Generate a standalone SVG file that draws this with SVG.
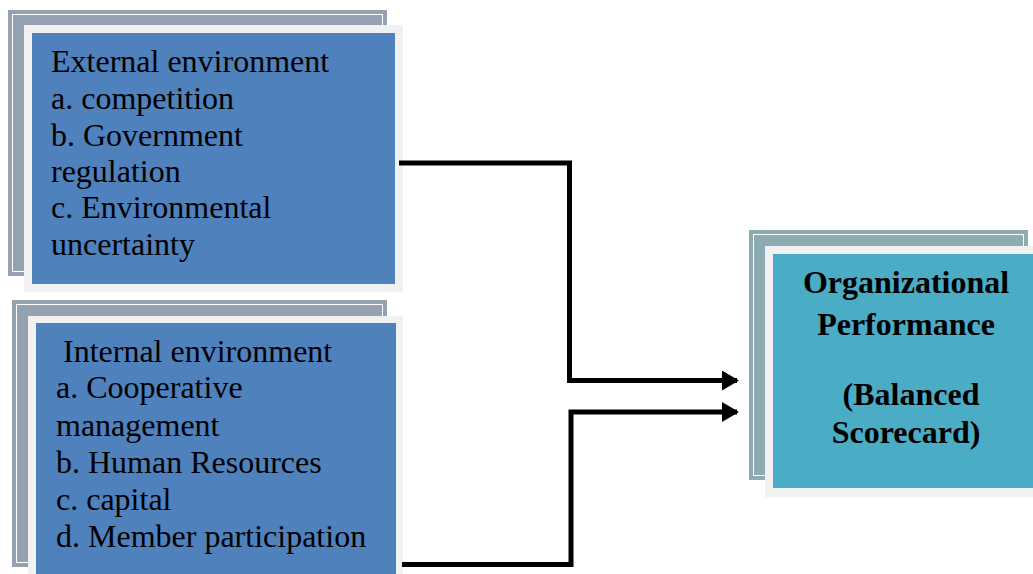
<svg xmlns="http://www.w3.org/2000/svg" width="1033" height="574" viewBox="0 0 1033 574">
<defs>
<style>
.back{fill:#94a1b0;}
.backR{fill:#8eaab3;}
.inner{fill:none;stroke:#ffffff;stroke-width:1;}
.frame{fill:#f1f1f1;}
.blue{fill:#4f81bd;}
.teal{fill:#4bacc6;}
.t{font-family:"Liberation Serif","Times New Roman",serif;font-size:32px;fill:#000;}
.b{font-family:"Liberation Serif","Times New Roman",serif;font-size:32px;font-weight:bold;fill:#000;text-anchor:middle;}
.con{fill:none;stroke:#000;stroke-width:5;stroke-linejoin:miter;}
</style>
<marker id="arr" markerUnits="userSpaceOnUse" markerWidth="17" markerHeight="20" refX="15" refY="10" orient="auto" viewBox="0 0 17 20">
<path d="M0,0 L17,10 L0,20 Z" fill="#000"/>
</marker>
</defs>
<rect width="1033" height="574" fill="#ffffff"/>

<g id="external">
<rect class="back" x="8" y="10" width="379" height="266"/>
<rect class="inner" x="12.5" y="14.5" width="370" height="257"/>
<rect class="frame" x="24" y="25" width="379" height="267"/>
<rect class="blue" x="32" y="33" width="363" height="251"/>
<text class="t" x="51" y="72">External environment</text>
<text class="t" x="51" y="109">a. competition</text>
<text class="t" x="51" y="146">b. Government</text>
<text class="t" x="51" y="182">regulation</text>
<text class="t" x="51" y="218">c. Environmental</text>
<text class="t" x="51" y="255">uncertainty</text>
</g>

<g id="internal">
<rect class="back" x="12" y="300" width="375" height="267"/>
<rect class="inner" x="16.5" y="304.5" width="366" height="258"/>
<rect class="frame" x="28" y="316" width="375" height="270"/>
<rect class="blue" x="36" y="323" width="360" height="260"/>
<text class="t" x="63" y="362">Internal environment</text>
<text class="t" x="56" y="398">a. Cooperative</text>
<text class="t" x="56" y="436">management</text>
<text class="t" x="56" y="473">b. Human Resources</text>
<text class="t" x="56" y="510">c. capital</text>
<text class="t" x="56" y="547">d. Member participation</text>
</g>

<g id="performance">
<rect class="backR" x="749" y="230" width="279" height="250"/>
<rect class="inner" x="753.5" y="234.5" width="270" height="241"/>
<rect class="frame" x="765" y="246" width="280" height="251"/>
<rect class="teal" x="773" y="254" width="270" height="234"/>
<text class="b" x="906" y="293">Organizational</text>
<text class="b" x="906" y="335">Performance</text>
<text class="b" x="911" y="405">(Balanced</text>
<text class="b" x="906" y="443">Scorecard)</text>
</g>

<g id="connectors">
<path class="con" d="M399,163 H569.5 V380.5 H737" marker-end="url(#arr)"/>
<path class="con" d="M402,564.5 H571 V412 H737" marker-end="url(#arr)"/>
</g>
</svg>
